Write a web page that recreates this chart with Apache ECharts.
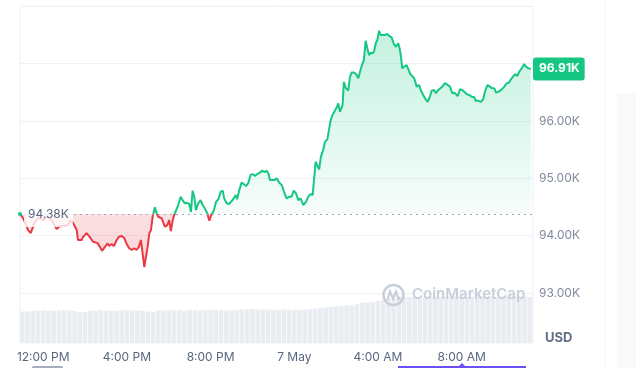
<!DOCTYPE html>
<html>
<head>
<meta charset="utf-8">
<script src="https://cdn.jsdelivr.net/npm/echarts@6/dist/echarts.min.js"></script>
<style>
html,body{margin:0;padding:0;background:#fff;}
#chart{width:636px;height:368px;}
</style>
</head>
<body>
<div id="chart"></div>
<script>
// Hours since 6 May 00:00 (24 = 7 May 00:00)
const hours = [10.89,11.03,11.17,11.27,11.40,11.51,11.60,11.79,11.99,12.18,12.37,12.51,12.64,12.80,12.99,13.18,13.28,13.42,13.60,13.66,13.84,13.90,14.07,14.23,14.38,14.47,14.60,14.71,14.81,14.95,15.08,15.15,15.27,15.38,15.51,15.62,15.75,15.87,15.99,16.10,16.23,16.35,16.46,16.57,16.67,16.75,16.83,16.91,16.99,17.07,17.15,17.23,17.34,17.42,17.50,17.58,17.66,17.74,17.82,17.93,18.02,18.10,18.19,18.26,18.34,18.45,18.57,18.66,18.77,18.88,18.98,19.06,19.14,19.22,19.30,19.41,19.52,19.62,19.73,19.84,19.94,20.03,20.16,20.26,20.37,20.48,20.58,20.65,20.77,20.88,20.97,21.08,21.20,21.27,21.37,21.48,21.59,21.69,21.80,21.91,22.01,22.12,22.23,22.36,22.47,22.58,22.68,22.77,22.84,22.93,23.04,23.16,23.28,23.40,23.51,23.63,23.76,23.87,23.98,24.08,24.19,24.30,24.43,24.56,24.67,24.78,24.88,24.95,25.02,25.10,25.19,25.27,25.38,25.47,25.58,25.67,25.74,25.83,25.94,26.03,26.10,26.18,26.31,26.37,26.47,26.58,26.66,26.74,26.85,26.95,27.06,27.17,27.27,27.33,27.41,27.49,27.57,27.65,27.75,27.82,27.90,27.97,28.05,28.13,28.22,28.33,28.44,28.54,28.65,28.76,28.86,28.97,29.04,29.10,29.16,29.26,29.37,29.45,29.53,29.64,29.73,29.85,29.96,30.05,30.16,30.28,30.38,30.48,30.57,30.68,30.77,30.88,30.96,31.07,31.20,31.33,31.44,31.55,31.65,31.73,31.81,31.92,32.03,32.12,32.24,32.35,32.48,32.60,32.67,32.79,32.92,33.03,33.11,33.24,33.35,33.46,33.56,33.64,33.75,33.88,33.96,34.04,34.15,34.26,34.39,34.47,34.55,34.66,34.75,34.87,34.99,35.07,35.18,35.31];
const prices = [94380,94310,94200,94100,94045,94150,94240,94310,94270,94325,94290,94200,94115,94170,94170,94185,94260,94225,94100,93925,93925,93975,94045,93975,93895,93905,93870,93805,93735,93805,93865,93820,93855,93820,93925,93980,93995,93960,93855,93785,93750,93780,93750,93805,93925,93695,93450,93630,93805,94045,94100,94330,94495,94390,94330,94360,94300,94330,94155,94185,94270,94080,94270,94360,94390,94535,94680,94620,94565,94575,94550,94415,94785,94680,94445,94565,94620,94535,94475,94390,94260,94360,94445,94590,94635,94765,94785,94650,94565,94550,94590,94635,94710,94635,94795,94925,94900,94865,94915,95060,95075,95040,95075,95100,95135,95110,95135,95075,94970,94995,94970,95000,94925,94885,94765,94650,94680,94680,94785,94740,94620,94650,94535,94590,94680,94725,94710,94680,95290,95320,95155,95375,95495,95640,95680,95700,96015,96105,96180,96240,96310,96160,96280,96685,96570,96530,96765,96845,96845,96820,96745,96900,97015,97065,97400,97270,97150,97190,97180,97225,97365,97415,97575,97500,97485,97500,97520,97485,97460,97345,97295,97355,97255,97120,96920,96950,96975,97005,96830,96785,96745,96600,96630,96540,96455,96380,96335,96425,96530,96540,96485,96540,96510,96600,96660,96630,96600,96485,96495,96470,96435,96555,96540,96510,96470,96455,96425,96415,96355,96355,96335,96380,96510,96630,96600,96570,96570,96495,96510,96540,96570,96600,96660,96670,96745,96765,96820,96785,96860,96920,96995,96950,96920,96910];

// Volume (relative units), one bar per 15 minutes starting 11:00 AM
const volumeStartHour = 11.0;
const volumeStepHours = 0.25;
const volumes = [31.5,31.5,32,32.5,32.5,32,32.5,32.5,33,32.5,32,30.5,31,32.5,32.5,33,32.5,32.5,32,32.5,33,32.5,32.5,32,31.5,31,32.5,32.5,33,32.5,33,32.5,33,33,32.5,33,33.5,33,33,32.5,33,33,33.5,34,34,33.5,33.5,33.5,33.5,33,33.5,33.5,33,33,33.5,34,34.5,35,35.5,36,36.5,37,37.5,38,39,40,40.5,41,42,43,44,45,45.5,46,46,46.5,46,46.5,47,46.5,46,46.5,46.5,47,46.5,46,46.5,46.5,47,46.5,46.5,46,46.5,46.5,47,46.5,46.5,46];

const tickHours = [12,16,20,24,28,32];
const tickLabels = ['12:00 PM','4:00 PM','8:00 PM','7 May','4:00 AM','8:00 AM'];
const yTicks = [93000,94000,95000,96000,97000,98000];

const baseline = prices[0];
const lastPrice = prices[prices.length - 1];
const xMin = 10.89, xMax = 35.41;

const lineData = hours.map((h, i) => [h, prices[i]]);
const upData = hours.map((h, i) => [h, Math.max(prices[i], baseline)]);
const downData = hours.map((h, i) => [h, Math.min(prices[i], baseline)]);
const volData = volumes.map((v, i) => [volumeStartHour + i * volumeStepHours, v]);

const fmtK = v => (v / 1000).toFixed(2) + 'K';
const GREEN = '#16c784', RED = '#ea3943';
const FONT = 'Inter, "Noto Sans", sans-serif';

const chart = echarts.init(document.getElementById('chart'), null, {renderer: 'canvas'});
chart.setOption({
  animation: false,
  backgroundColor: '#ffffff',
  textStyle: {fontFamily: FONT},
  grid: [
    {left: 20, right: 103, top: 6.4, bottom: 75},
    {left: 20, right: 103, top: 6.4, bottom: 25, show: true, borderColor: '#eceff3', borderWidth: 1}
  ],
  xAxis: [
    {type: 'value', gridIndex: 0, min: xMin, max: xMax, show: false},
    {type: 'value', gridIndex: 1, min: xMin, max: xMax,
      axisLine: {show: false}, axisTick: {show: false}, splitLine: {show: false},
      axisLabel: {customValues: tickHours, margin: 8, color: '#58667e', fontSize: 12, fontFamily: FONT,
        formatter: v => { const i = tickHours.indexOf(Math.round(v)); return i >= 0 ? tickLabels[i] : ''; }}
    }
  ],
  yAxis: [
    {type: 'value', gridIndex: 0, position: 'right', min: yTicks[0], max: yTicks[yTicks.length - 1], interval: 1000,
      axisLine: {show: false}, axisTick: {show: false},
      splitLine: {lineStyle: {color: '#eff2f5', width: 1}},
      axisLabel: {showMaxLabel: false, margin: 6, color: '#808a9d', fontSize: 12, fontFamily: FONT, formatter: fmtK}
    },
    {type: 'value', gridIndex: 1, min: 0, max: 336.6, show: false}
  ],
  visualMap: {
    show: false, type: 'piecewise', seriesIndex: 3, dimension: 1,
    pieces: [{gte: 0, lt: baseline, color: RED}, {gte: baseline, lte: 1000000, color: GREEN}]
  },
  series: [
    {type: 'bar', xAxisIndex: 1, yAxisIndex: 1, data: volData, barWidth: 4.6,
      itemStyle: {color: '#e9ecf0'}, silent: true, z: 1},
    {type: 'line', xAxisIndex: 0, yAxisIndex: 0, data: upData, symbol: 'none', lineStyle: {width: 0}, silent: true, z: 2,
      areaStyle: {origin: baseline, color: new echarts.graphic.LinearGradient(0, 0, 0, 1, [
        {offset: 0, color: 'rgba(22,199,132,0.36)'}, {offset: 1, color: 'rgba(22,199,132,0.05)'}])}},
    {type: 'line', xAxisIndex: 0, yAxisIndex: 0, data: downData, symbol: 'none', lineStyle: {width: 0}, silent: true, z: 2,
      areaStyle: {origin: baseline, color: new echarts.graphic.LinearGradient(0, 0, 0, 1, [
        {offset: 0, color: 'rgba(234,57,67,0.22)'}, {offset: 1, color: 'rgba(234,57,67,0.3)'}])}},
    {type: 'line', xAxisIndex: 0, yAxisIndex: 0, data: lineData, symbol: 'none', z: 3,
      lineStyle: {width: 2}, silent: true,
      markLine: {
        silent: true, symbol: 'none', z: 10,
        data: [
          {yAxis: baseline, lineStyle: {type: [2, 4], color: '#a1a7bb', width: 1}, label: {show: false}},
          {yAxis: lastPrice, lineStyle: {color: 'rgba(255,255,255,0)', width: 1, type: 'solid'},
            label: {show: true, position: 'end', distance: 0, formatter: fmtK(lastPrice),
              backgroundColor: GREEN, color: '#ffffff', fontWeight: 'bold', fontSize: 12, fontFamily: FONT,
              padding: [5, 5, 5, 6], borderRadius: 3, lineHeight: 13}}
        ]
      },
      markPoint: {
        silent: true, z: 12,
        data: [{coord: [hours[0], baseline], symbol: 'circle', symbolSize: 4, itemStyle: {color: GREEN},
          label: {show: true, position: 'right', distance: 2, formatter: fmtK(baseline),
            color: '#58667e', fontSize: 12, fontFamily: FONT,
            backgroundColor: 'rgba(255,255,255,0.78)', padding: [7, 4, 7, 4]}}]
      }
    }
  ],
  graphic: [
    {type: 'rect', left: 604, top: 0, shape: {width: 1, height: 368}, style: {fill: '#f4f5f7'}, silent: true},
    {type: 'rect', left: 617, top: 93, shape: {width: 19, height: 275}, style: {fill: '#f8f9fb'}, silent: true},
    {type: 'text', left: 545, top: 332, style: {text: 'USD', fill: '#616e85', font: 'bold 13px ' + FONT}, silent: true},
    {type: 'circle', shape: {cx: 393.5, cy: 295, r: 10}, style: {fill: 'none', stroke: '#c9cfda', lineWidth: 2.6}, silent: true, z: 50},
    {type: 'polyline', shape: {points: [[387.5, 300], [390, 291.5], [393, 298.5], [396, 291.5], [398.5, 299], [400.5, 297]]},
      style: {fill: 'none', stroke: '#c9cfda', lineWidth: 2.2}, silent: true, z: 50},
    {type: 'text', left: 412, top: 287, style: {text: 'CoinMarketCap', fill: '#c9cfda', font: '600 15px ' + FONT}, silent: true, z: 50},
    {type: 'rect', left: 32, top: 366, shape: {width: 31, height: 3, r: 1.5}, style: {fill: '#a6adbf'}, silent: true},
    {type: 'rect', left: 398, top: 366, shape: {width: 128, height: 2}, style: {fill: '#6d4ef2'}, silent: true},
    {type: 'polygon', shape: {points: [[459, 366], [462, 363], [465, 366]]}, style: {fill: '#6d4ef2'}, silent: true}
  ]
});
</script>
</body>
</html>
